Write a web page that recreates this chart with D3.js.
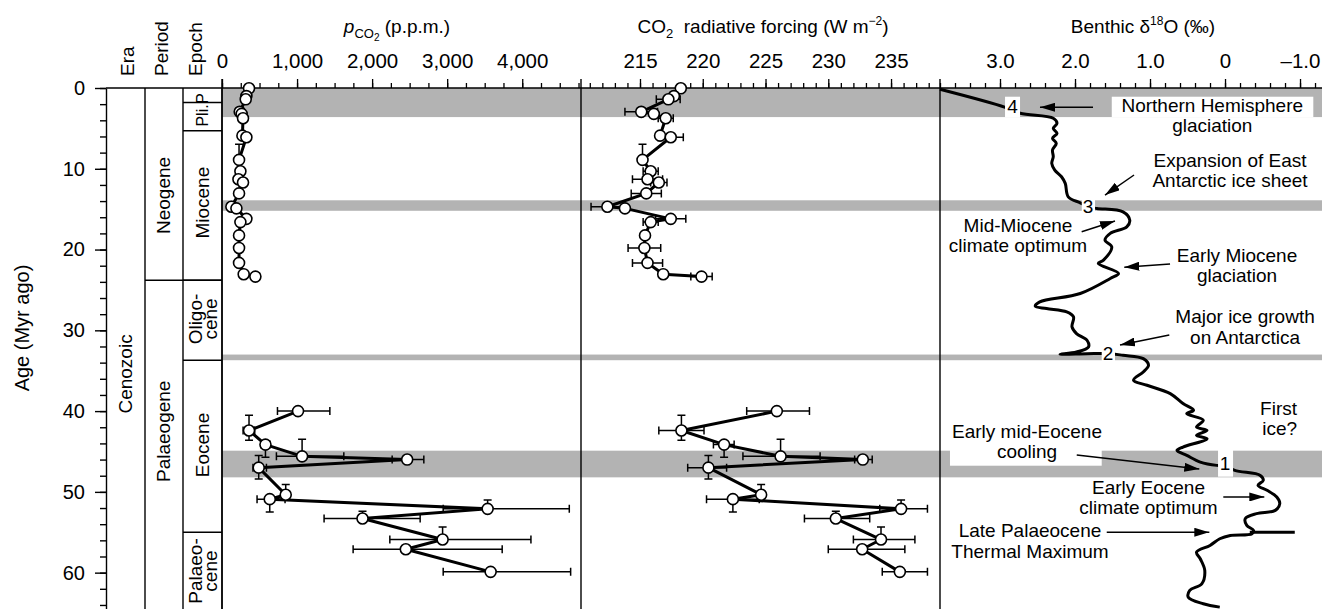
<!DOCTYPE html>
<html>
<head>
<meta charset="utf-8">
<script src="https://cdn.jsdelivr.net/npm/d3@7"></script>
<style>
  body { margin: 0; background: #fff; }
  svg { display: block; }
</style>
</head>
<body>
<div id="chart"></div>
<script>
// ---- data ----
// CO2 proxy samples, age in Myr ago (Neogene run, then Palaeogene run)
const sampleAge = [0.04, 1.0, 1.4, 2.95, 3.2, 3.75, 5.9, 6.1, 8.9, 10.3, 11.3, 11.7, 13.05, 14.7, 14.9, 16.2, 16.6, 18.25, 19.8, 21.65, 23.05, 23.35,
  40.0, 42.4, 44.15, 45.6, 46.0, 47.0, 50.35, 50.9, 52.1, 53.3, 55.9, 57.1, 59.9];
const ageLo = [null, null, null, null, null, null, null, null, 6.97, null, null, null, null, null, null, null, null, null, null, null, null, null,
  null, 40.5, null, 43.5, null, 45.5, 49.1, null, 51.0, 52.4, 54.35, null, null];
const ageHi = [null, null, null, null, null, null, null, null, null, null, null, null, null, null, null, null, null, null, null, null, null, null,
  null, 43.6, 45.7, null, null, 48.4, null, 52.5, null, null, null, null, null];

const pco2 = [360, 325, 316, 236, 262, 280, 272, 325, 227, 245, 219, 280, 227, 125, 192, 325, 245, 227, 227, 227, 289, 445,
  1013, 360, 579, 1067, 2467, 489, 849, 636, 3539, 1872, 2939, 2449, 3579];
const pco2Lo = [null, null, 285, 200, null, 262, null, 290, null, 228, 185, 262, 192, 105, null, 275, 228, null, 190, 192, null, 395,
  739, 281, 520, 725, 2267, 413, null, 467, 2947, 1360, 2236, 1747, 2947];
const pco2Hi = [null, null, 350, 275, null, 300, null, 365, null, 262, 255, 300, 265, 150, null, 380, 262, null, 270, 265, null, 500,
  1437, 436, 640, 1623, 2689, 592, null, 840, 4627, 2640, 4116, 3733, 4645];

const forcing = [218.25, 217.7, 217.26, 215.1, 216.1, 217.05, 216.6, 217.45, 215.2, 215.85, 215.6, 216.5, 215.5, 212.4, 213.8, 217.45, 215.85, 215.4, 215.35, 215.6, 216.85, 219.9,
  225.9, 218.3, 221.7, 226.2, 232.75, 220.45, 224.65, 222.4, 235.8, 230.6, 234.2, 232.7, 235.7];
const forcingLo = [null, null, 216.3, 213.8, null, 216.45, null, 216.45, null, 215.25, 214.4, 215.85, 214.3, 211.1, null, 216.25, 215.25, null, 214.05, 214.4, null, 219.05,
  223.5, 216.5, 220.85, 223.2, 232.1, 218.8, null, 220.3, 234.1, 228.1, 232.0, 230.0, 234.3];
const forcingHi = [null, null, 218.2, 216.4, null, 217.65, null, 218.45, null, 216.45, 216.8, 217.15, 216.7, 213.7, null, 218.65, 216.45, null, 216.65, 216.8, null, 220.75,
  228.5, 220.1, 222.5, 229.35, 233.5, 221.9, null, 224.5, 237.9, 233.3, 236.9, 236.1, 237.9];

// benthic d18O stack (age Myr, per mil)
const d18oAge = [0.16, 2.39, 3.13, 3.75, 4.37, 4.99, 5.61, 6.23, 6.85, 7.68, 8.51, 9.33, 10.16, 10.99, 11.81, 13.47, 14.21, 14.7, 14.91, 15.33,
  16.36, 17.19, 18.0, 18.84, 19.67, 21.31, 21.72, 22.96, 23.58, 25.44, 26.48, 27.01, 27.3, 27.72, 28.34, 29.58, 30.4, 31.23, 32.06, 32.68,
  32.96, 32.9, 32.87, 33.09, 33.5, 34.32, 35.15, 36.18, 36.8, 37.83, 39.07, 39.9, 40.31, 41.14, 41.97, 42.38, 43.0, 43.41, 44.45, 44.86,
  45.48, 46.31, 46.72, 46.75, 47.34, 47.96, 48.57, 49.19, 49.81, 50.64, 51.46, 52.29, 52.7, 53.32, 54.15, 54.77, 55.18, 55.39, 55.8, 56.63,
  57.46, 58.28, 59.73, 61.38, 62.2, 63.04, 63.85, 64.27];
const d18oValue = [3.8, 2.93, 2.73, 2.29, 2.24, 2.29, 2.24, 2.30, 2.25, 2.30, 2.29, 2.31, 2.27, 2.18, 2.13, 2.09, 1.93, 1.82, 1.71, 1.36,
  1.27, 1.31, 1.53, 1.6, 1.51, 1.62, 1.69, 1.42, 1.53, 1.93, 2.47, 2.53, 2.38, 2.11, 2.02, 2.04, 1.98, 1.84, 1.82, 1.98,
  2.2, 1.84, 1.56, 1.36, 1.09, 1.02, 1.09, 1.22, 1.04, 0.73, 0.56, 0.42, 0.51, 0.29, 0.38, 0.24, 0.38, 0.24, 0.56, 0.64,
  0.51, 0.33, 0.11, 0.0, -0.13, -0.47, -0.51, -0.44, -0.56, -0.69, -0.73, -0.67, -0.42, -0.27, -0.29, -0.38, -0.36, -0.07, 0.07, 0.2,
  0.38, 0.33, 0.27, 0.31, 0.47, 0.49, 0.29, 0.07];
// PETM excursion
const petmAge = [55.0, 55.0];
const petmValue = [-0.33, -0.93];

// event bands (Myr)
const bandStart = [0, 13.9, 33.0, 44.9];
const bandEnd = [3.6, 15.2, 33.7, 48.2];

// time scale
const eras = [{ name: ["Cenozoic"], start: 0, end: 70 }];
const periods = [{ name: ["Neogene"], start: 0, end: 23.8 }, { name: ["Palaeogene"], start: 23.8, end: 70 }];
const epochs = [
  { name: ["P"], start: 0, end: 1.8 },
  { name: ["Pli."], start: 1.8, end: 5.3 },
  { name: ["Miocene"], start: 5.3, end: 23.8 },
  { name: ["Oligo-", "cene"], start: 23.8, end: 33.7 },
  { name: ["Eocene"], start: 33.7, end: 55.0 },
  { name: ["Palaeo-", "cene"], start: 55.0, end: 70 }
];
// where each unit's label is centred (Myr)
const labelAge = { Cenozoic: 35.4, Neogene: 13.3, Palaeogene: 42.5, P: 1.3, "Pli.": 3.4, Miocene: 14.2, "Oligo-": 28.6, Eocene: 44.2, "Palaeo-": 59.8 };

const ageTicks = [0, 10, 20, 30, 40, 50, 60];
const pco2Ticks = [0, 1000, 2000, 3000, 4000];
const forcingTicks = [215, 220, 225, 230, 235];
const d18oTicks = [3, 2, 1, 0, -1];

// ---- layout ----
const W = 1322, H = 609;
const FONT = '"Liberation Sans", Arial, Helvetica, sans-serif';
const AXIS_Y = 88;
const BAND = "#b3b3b3";

const svg = d3.select("#chart").append("svg")
  .attr("width", W).attr("height", H)
  .attr("font-family", FONT);

const y = d3.scaleLinear().domain([0, 64.5]).range([AXIS_Y, H]);
const xP = d3.scaleLinear().domain([0, 4783]).range([222, 581]);
const xF = d3.scaleLinear().domain([210.3, 238.9]).range([581, 940]);
const xD = d3.scaleLinear().domain([3.8, -1.293]).range([940, W]);

// event bands
svg.append("g").selectAll("rect")
  .data(bandStart.map((s, i) => [s, bandEnd[i]]))
  .join("rect")
  .attr("x", 222).attr("width", W - 222)
  .attr("y", d => y(d[0])).attr("height", d => y(d[1]) - y(d[0]))
  .attr("fill", BAND);

// time-scale columns
const cols = [
  { x0: 106, x1: 145, units: eras, cx: 125 },
  { x0: 145, x1: 183, units: periods, cx: 163 },
  { x0: 183, x1: 222, units: epochs, cx: 202.5 }
];
const chrono = svg.append("g");
cols.forEach(c => {
  chrono.append("line").attr("x1", c.x1).attr("x2", c.x1).attr("y1", AXIS_Y).attr("y2", H)
    .attr("stroke", "#000").attr("stroke-width", 1.4);
  c.units.forEach(u => {
    if (u.start > 0) {
      chrono.append("line").attr("x1", c.x0).attr("x2", 222)
        .attr("y1", y(u.start)).attr("y2", y(u.start))
        .attr("stroke", "#000").attr("stroke-width", 1.4);
    }
    const small = u.name[0] === "P" || u.name[0] === "Pli.";
    const t = chrono.append("text")
      .attr("transform", `translate(${c.cx},${y(labelAge[u.name[0]])}) rotate(-90)`)
      .attr("text-anchor", "middle")
      .attr("dominant-baseline", "central")
      .attr("font-size", small ? 16 : 19);
    if (u.name.length === 1) {
      t.text(u.name[0]);
    } else {
      t.append("tspan").attr("x", 0).attr("dy", "-7.7").text(u.name[0]);
      t.append("tspan").attr("x", 0).attr("dy", "15.4").text(u.name[1]);
    }
  });
});
chrono.append("line").attr("x1", 106).attr("x2", 222).attr("y1", AXIS_Y).attr("y2", AXIS_Y)
  .attr("stroke", "#000").attr("stroke-width", 1.4);

// column headings
[["Era", 134], ["Period", 167.5], ["Epoch", 201.5]].forEach(([s, bx]) => {
  svg.append("text")
    .attr("transform", `translate(${bx},76) rotate(-90)`)
    .attr("font-size", 19).text(s);
});

// age axis
const ageMinor = svg.append("g").attr("transform", "translate(106,0)")
  .call(d3.axisLeft(y).tickValues(d3.range(0, 65, 2)).tickSize(6).tickFormat("").tickSizeOuter(0));
const ageMajor = svg.append("g").attr("transform", "translate(106,0)")
  .call(d3.axisLeft(y).tickValues(ageTicks).tickSize(11).tickPadding(10).tickSizeOuter(0));
[ageMinor, ageMajor].forEach(g => {
  g.selectAll("line, path").attr("stroke", "#000").attr("stroke-width", 1.4);
  g.selectAll("text").attr("font-size", 20).attr("font-family", FONT).attr("fill", "#000");
});
ageMinor.select(".domain").remove();

svg.append("text")
  .attr("transform", `translate(29,328) rotate(-90)`)
  .attr("text-anchor", "middle").attr("font-size", 20)
  .text("Age (Myr ago)");

// top axes
function topAxis(x, major, minor, fmt) {
  const g = svg.append("g").attr("transform", `translate(0,${AXIS_Y})`);
  g.append("g").call(d3.axisTop(x).tickValues(minor).tickSize(5).tickFormat("").tickSizeOuter(0));
  g.append("g").call(d3.axisTop(x).tickValues(major).tickSize(9).tickPadding(11).tickFormat(fmt).tickSizeOuter(0));
  g.selectAll(".domain").remove();
  g.selectAll("line").attr("stroke", "#000").attr("stroke-width", 1.3);
  g.selectAll("text").attr("font-size", 20.5).attr("font-family", FONT).attr("fill", "#000");
}
topAxis(xP, pco2Ticks, d3.range(0, 4783, 250), d3.format(","));
topAxis(xF, forcingTicks, d3.range(211, 239, 1), d3.format("d"));
topAxis(xD, d18oTicks, d3.range(-6, 20).map(i => i / 5),
  d => d === 0 ? "0" : (d < 0 ? "\u2013" : "") + Math.abs(d).toFixed(1));

svg.append("line").attr("x1", 222).attr("x2", W).attr("y1", AXIS_Y).attr("y2", AXIS_Y)
  .attr("stroke", "#000").attr("stroke-width", 1.3);
[222, 581, 940].forEach(px => {
  svg.append("line").attr("x1", px).attr("x2", px).attr("y1", AXIS_Y - 9).attr("y2", H)
    .attr("stroke", "#000").attr("stroke-width", 1.4);
});

// axis titles
const t1 = svg.append("text").attr("x", 397).attr("y", 33).attr("text-anchor", "middle").attr("font-size", 19);
t1.append("tspan").attr("font-style", "italic").text("p");
t1.append("tspan").attr("font-size", 13).attr("dy", 5).text("CO");
t1.append("tspan").attr("font-size", 10).attr("dy", 2.5).text("2");
t1.append("tspan").attr("dy", -7.5).text(" (p.p.m.)");

const t2 = svg.append("text").attr("x", 763).attr("y", 33).attr("text-anchor", "middle").attr("font-size", 19)
  .attr("xml:space", "preserve");
t2.append("tspan").text("CO");
t2.append("tspan").attr("font-size", 13).attr("dy", 5).text("2");
t2.append("tspan").attr("dy", -5).text("  radiative forcing (W m");
t2.append("tspan").attr("font-size", 12).attr("dy", -8).text("\u22122");
t2.append("tspan").attr("dy", 8).text(")");

const t3 = svg.append("text").attr("x", 1143).attr("y", 33).attr("text-anchor", "middle").attr("font-size", 19);
t3.append("tspan").text("Benthic \u03b4");
t3.append("tspan").attr("font-size", 12).attr("dy", -8).text("18");
t3.append("tspan").attr("dy", 8).text("O (\u2030)");

// CO2 panels
const samples = sampleAge.map((a, i) => ({
  age: a, aLo: ageLo[i], aHi: ageHi[i],
  p: pco2[i], pLo: pco2Lo[i], pHi: pco2Hi[i],
  f: forcing[i], fLo: forcingLo[i], fHi: forcingHi[i]
}));
const runs = [];
samples.forEach((s, i) => {
  if (i === 0 || s.age - samples[i - 1].age > 10) runs.push([]);
  runs[runs.length - 1].push(s);
});

function co2Panel(x, key, loKey, hiKey) {
  const g = svg.append("g");
  const bars = g.append("g").attr("stroke", "#000").attr("stroke-width", 1.5).attr("fill", "none");
  const CAP = 4;
  samples.forEach(s => {
    if (s[loKey] != null) {
      const xa = x(s[loKey]), xb = x(s[hiKey]), yy = y(s.age);
      bars.append("path").attr("d",
        `M${xa},${yy}H${xb}M${xa},${yy - CAP}V${yy + CAP}M${xb},${yy - CAP}V${yy + CAP}`);
    }
    if (s.aLo != null || s.aHi != null) {
      const xx = x(s[key]);
      const ya = y(s.aLo != null ? s.aLo : s.age), yb = y(s.aHi != null ? s.aHi : s.age);
      let d = `M${xx},${ya}V${yb}`;
      if (s.aLo != null) d += `M${xx - CAP},${ya}H${xx + CAP}`;
      if (s.aHi != null) d += `M${xx - CAP},${yb}H${xx + CAP}`;
      bars.append("path").attr("d", d);
    }
  });
  const line = d3.line().x(d => x(d[key])).y(d => y(d.age));
  g.append("g").selectAll("path").data(runs).join("path")
    .attr("d", line).attr("fill", "none").attr("stroke", "#000")
    .attr("stroke-width", 3).attr("stroke-linejoin", "round");
  g.append("g").selectAll("circle").data(samples).join("circle")
    .attr("cx", d => x(d[key])).attr("cy", d => y(d.age)).attr("r", 5.5)
    .attr("fill", "#fff").attr("stroke", "#000").attr("stroke-width", 1.6);
}
co2Panel(xP, "p", "pLo", "pHi");
co2Panel(xF, "f", "fLo", "fHi");

// d18O curve
const curve = d3.line().x(d => xD(d[1])).y(d => y(d[0])).curve(d3.curveCatmullRom.alpha(0.5));
svg.append("path")
  .datum(d18oAge.map((a, i) => [a, d18oValue[i]]))
  .attr("d", curve).attr("fill", "none").attr("stroke", "#000").attr("stroke-width", 3)
  .attr("stroke-linejoin", "round");
svg.append("path")
  .datum(petmAge.map((a, i) => [a, petmValue[i]]))
  .attr("d", d3.line().x(d => xD(d[1])).y(d => y(d[0])))
  .attr("fill", "none").attr("stroke", "#000").attr("stroke-width", 3);

// annotations (positions in per mil / Myr)
const boxes = [
  [2.933, 2.733, 1.08, 3.62], [1.51, -1.177, 1.08, 3.62], [1.91, 1.733, 13.62, 15.6],
  [1.644, 1.467, 32.03, 33.9], [0.093, -0.107, 44.81, 48.12], [3.667, 1.644, 44.81, 46.76]
];
svg.append("g").selectAll("rect").data(boxes).join("rect")
  .attr("x", d => xD(d[0])).attr("width", d => xD(d[1]) - xD(d[0]))
  .attr("y", d => y(d[2])).attr("height", d => y(d[3]) - y(d[2]))
  .attr("fill", "#fff");

const markers = [["4", 2.833, 3.13], ["3", 1.827, 15.51], ["2", 1.56, 33.67], ["1", 0.0, 47.29]];
svg.append("g").selectAll("text").data(markers).join("text")
  .attr("x", d => xD(d[1])).attr("y", d => y(d[2]))
  .attr("text-anchor", "middle").attr("font-size", 19).text(d => d[0]);

const notes = [
  { lines: ["Northern Hemisphere", "glaciation"], d: 0.17, age: 2.97, anchor: "middle" },
  { lines: ["Expansion of East", "Antarctic ice sheet"], d: -0.067, age: 9.74, anchor: "middle" },
  { lines: ["Mid-Miocene", "climate optimum"], d: 2.76, age: 17.79, anchor: "middle" },
  { lines: ["Early Miocene", "glaciation"], d: -0.16, age: 21.5, anchor: "middle" },
  { lines: ["Major ice growth", "on Antarctica"], d: -0.267, age: 29.13, anchor: "middle" },
  { lines: ["First", "ice?"], d: -0.96, age: 40.48, anchor: "end" },
  { lines: ["Early mid-Eocene", "cooling"], d: 2.64, age: 43.29, anchor: "middle" },
  { lines: ["Early Eocene", "climate optimum"], d: 1.02, age: 50.26, anchor: "middle" },
  { lines: ["Late Palaeocene", "Thermal Maximum"], d: 2.6, age: 55.62, anchor: "middle" }
];
const noteG = svg.append("g").attr("font-size", 19);
notes.forEach(n => {
  const t = noteG.append("text").attr("x", xD(n.d)).attr("y", y(n.age)).attr("text-anchor", n.anchor);
  n.lines.forEach((l, i) => t.append("tspan").attr("x", xD(n.d)).attr("dy", i ? 20.5 : 0).text(l));
});

svg.append("defs").append("marker")
  .attr("id", "head").attr("markerUnits", "userSpaceOnUse")
  .attr("viewBox", "0 0 15 9").attr("markerWidth", 15).attr("markerHeight", 9)
  .attr("refX", 15).attr("refY", 4.5).attr("orient", "auto")
  .append("path").attr("d", "M0,0L15,4.5L0,9Z").attr("fill", "#000");

const arrows = [
  [1.76, 2.39, 2.467, 2.39], [1.213, 10.77, 1.6, 13.25], [1.911, 17.79, 1.467, 16.46],
  [0.733, 21.79, 1.343, 22.2], [0.743, 30.58, 1.4, 31.81], [1.977, 45.43, 0.343, 47.16],
  [0.023, 50.63, -0.524, 50.63], [1.577, 55.0, 0.209, 55.0]
];
svg.append("g").selectAll("line").data(arrows).join("line")
  .attr("x1", d => xD(d[0])).attr("y1", d => y(d[1]))
  .attr("x2", d => xD(d[2])).attr("y2", d => y(d[3]))
  .attr("stroke", "#000").attr("stroke-width", 1.5).attr("marker-end", "url(#head)");
</script>
</body>
</html>
